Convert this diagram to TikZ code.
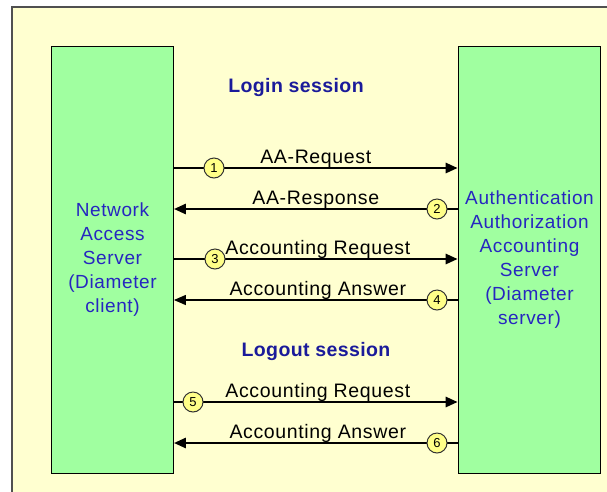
\documentclass[tikz,border=0pt]{standalone}
\usepackage{fontspec}
\setmainfont{Liberation Sans}
\newfontfamily\widesans[LetterSpace=3.3]{Liberation Sans}
\newfontfamily\titlesans[LetterSpace=2]{Liberation Sans}
\usetikzlibrary{arrows.meta}
\definecolor{paper}{HTML}{FFFFD0}
\definecolor{boxgreen}{HTML}{A0FFA0}
\definecolor{framegray}{HTML}{505050}
\definecolor{titleblue}{HTML}{1A1A9A}
\definecolor{textblue}{HTML}{2626C0}
\definecolor{badgeyellow}{HTML}{FFFF88}
\begin{document}
\begin{tikzpicture}[x=1pt,y=-1pt,
  party/.style={draw=black, line width=1.2pt, fill=boxgreen, inner sep=0pt,
    text=textblue, align=center, font=\widesans\fontsize{19}{24}\selectfont},
  sessiontitle/.style={text=titleblue, anchor=base, inner sep=0pt,
    font=\titlesans\bfseries\fontsize{19.5}{24}\selectfont},
  msg/.style={line width=2.6pt, -{Triangle[length=12pt,width=10pt]}},
  thinmsg/.style={line width=1.3pt, -{Triangle[length=12pt,width=10pt]}},
  msglabel/.style={anchor=base, inner sep=0pt, yshift=5pt,
    font=\widesans\fontsize{19.5}{24}\selectfont},
  badge/.style={circle, draw=black!80, line width=1pt, fill=badgeyellow,
    minimum size=20pt, inner sep=0pt, font=\fontsize{13}{13}\selectfont}
]
\useasboundingbox (0,0) rectangle (607,491);
\fill[white] (0,0) rectangle (607,491);
% outer frame, running past the right and bottom edges
\draw[framegray, line width=2pt, fill=paper] (12.3,6.7) rectangle (640,520);

% the two parties
\node[party, minimum width=121.6pt, minimum height=426.6pt] (nas) at (112.5,260)
  {Network\\Access\\Server\\(Diameter\\client)};
\node[party, minimum width=142.4pt, minimum height=426.6pt] (aaa) at (529.5,260)
  {Authentication\\Authorization\\Accounting\\Server\\(Diameter\\server)};

% session titles
\node[sessiontitle] (login) at (296,92) {Login session};
\node[sessiontitle] (logout) at (316,356) {Logout session};

% message rows
\coordinate (r1) at (0,168);
\coordinate (r2) at (0,209);
\coordinate (r3) at (0,259);
\coordinate (r4) at (0,300);
\coordinate (r5) at (0,402);
\coordinate (r6) at (0,443);

\draw[msg] (nas.east |- r1) -- (aaa.west |- r1)
  node[msglabel, pos=0.5] (l1) {AA-Request};
\draw[msg] (aaa.west |- r2) -- (nas.east |- r2)
  node[msglabel, pos=0.5] (l2) {AA-Response};
\draw[msg] (nas.east |- r3) -- (aaa.west |- r3)
  node[msglabel, pos=0.5, xshift=2pt] (l3) {Accounting Request};
\draw[thinmsg] (aaa.west |- r4) -- (nas.east |- r4)
  node[msglabel, pos=0.5, xshift=2pt] (l4) {Accounting Answer};
\draw[msg] (nas.east |- r5) -- (aaa.west |- r5)
  node[msglabel, pos=0.5, xshift=2pt] (l5) {Accounting Request};
\draw[msg] (aaa.west |- r6) -- (nas.east |- r6)
  node[msglabel, pos=0.5, xshift=2pt] (l6) {Accounting Answer};

% step numbers
\node[badge] (c1) at (214,168) {1};
\node[badge] (c2) at (437,209) {2};
\node[badge] (c3) at (215,259) {3};
\node[badge] (c4) at (437,300) {4};
\node[badge] (c5) at (193,402) {5};
\node[badge] (c6) at (437,443) {6};
\end{tikzpicture}
\end{document}
